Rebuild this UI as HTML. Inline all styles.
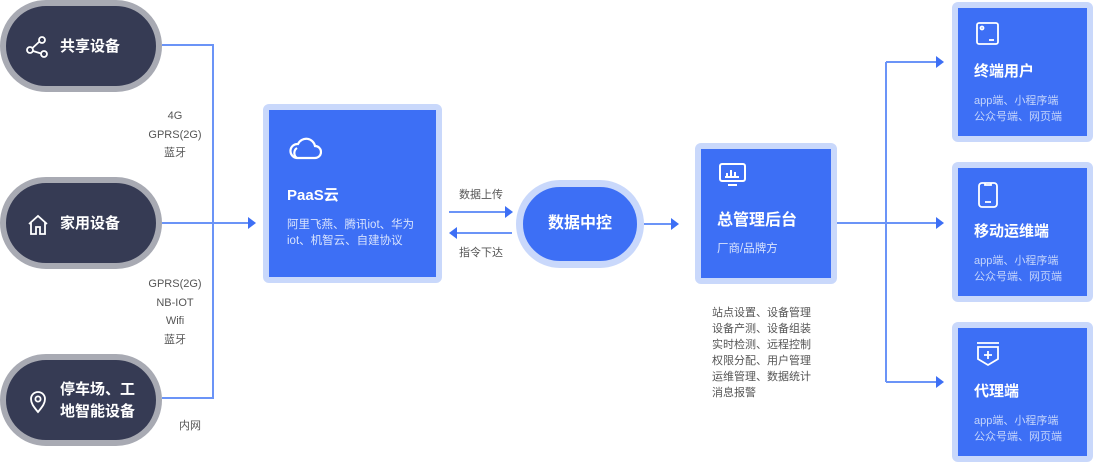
<!DOCTYPE html>
<html><head><meta charset="utf-8"><style>
*{margin:0;padding:0;box-sizing:border-box}
body{width:1094px;height:463px;background:#fff;position:relative;overflow:hidden;font-family:"Liberation Sans","Noto Sans CJK SC",sans-serif}
.a{position:absolute}
.pill{position:absolute;left:0;width:162px;height:92px;border-radius:46px;background:#363b54;border:6px solid #a8aab3;color:#fff;font-size:15px;font-weight:bold}
.pill svg{position:absolute;left:20px;top:30px}
.pill .t{position:absolute;left:54px;line-height:22px}
.lbl{position:absolute;font-size:11px;color:#555;text-align:center;line-height:18.5px}
.box{position:absolute;background:#3d6ff5;border:6px solid #c9d8fb;border-radius:6px;color:#fff}
.rb{left:952px;width:141px;height:140px}
.rb svg{position:absolute;left:18px;top:14px}
.rb .t{position:absolute;left:16px;top:52px;font-size:15px;font-weight:bold}
.rb .d{position:absolute;left:16px;top:86px;font-size:11px;color:#c5d5fb;line-height:15.5px}
</style></head><body>
<div class="pill" style="top:0"><svg width="24" height="24" viewBox="0 0 24 24" fill="none" stroke="#fff" stroke-width="1.8"><circle cx="16" cy="4" r="3"/><circle cx="4" cy="14" r="3"/><circle cx="18" cy="18" r="3"/><path d="M13.5 5.5L6.5 12M7 15l8 2.5"/></svg><div class="t" style="top:30px">共享设备</div></div>
<div class="pill" style="top:177px"><svg width="24" height="24" viewBox="0 0 24 24" fill="none" stroke="#fff" stroke-width="1.8"><path d="M3 11L12 3l9 8M5 9v12h5v-7h4v7h5V9"/></svg><div class="t" style="top:30px">家用设备</div></div>
<div class="pill" style="top:354px"><svg width="24" height="24" viewBox="0 0 24 24" fill="none" stroke="#fff" stroke-width="1.8"><path d="M12 22C7 16 5 13 5 9a7 7 0 0 1 14 0c0 4-2 7-7 13z"/><circle cx="12" cy="9" r="2.6"/></svg><div class="t" style="top:19px">停车场、工<br>地智能设备</div></div>

<svg class="a" style="left:0;top:0" width="1094" height="463">
<g stroke="#6b94f7" stroke-width="2" fill="none">
<path d="M162 45H213V398H162"/><path d="M162 223H248"/>
<path d="M449 212H506"/><path d="M456 233H512"/>
<path d="M644 224H672"/>
<path d="M837 223H886M886 62V382M886 62H937M886 223H937M886 382H937"/>
</g>
<g fill="#3d6ff5">
<path d="M248 217L256 223L248 229z"/>
<path d="M505 206L513 212L505 218z"/>
<path d="M457 227L449 233L457 239z"/>
<path d="M671 218L679 224L671 230z"/>
<path d="M936 56L944 62L936 68z"/><path d="M936 217L944 223L936 229z"/><path d="M936 376L944 382L936 388z"/>
</g>
</svg>

<div class="lbl" style="left:145px;top:107px;width:60px">4G<br>GPRS(2G)<br>蓝牙</div>
<div class="lbl" style="left:145px;top:275px;width:60px">GPRS(2G)<br>NB-IOT<br>Wifi<br>蓝牙</div>
<div class="lbl" style="left:175px;top:417px;width:30px">内网</div>

<div class="box" style="left:263px;top:104px;width:179px;height:179px">
<svg class="a" style="left:19px;top:23px" width="34" height="28" viewBox="0 0 34 28" fill="none" stroke="#fff" stroke-width="2.2"><path d="M9 25H27a6 6 0 0 0 0-12 9 9 0 0 0-17-2 7 7 0 0 0-1 14z"/><path d="M9 25a6 6 0 0 1 0-10"/></svg>
<div class="a" style="left:18px;top:74px;font-size:15px;font-weight:bold">PaaS云</div>
<div class="a" style="left:18px;top:107px;font-size:11.5px;color:#d8e3fd;line-height:16px;width:150px">阿里飞燕、腾讯iot、华为<br>iot、机智云、自建协议</div>
</div>

<div class="lbl" style="left:450px;top:186px;width:62px">数据上传</div>
<div class="lbl" style="left:450px;top:244px;width:62px">指令下达</div>

<div class="a" style="left:516px;top:180px;width:128px;height:88px;border-radius:44px;background:#3d6ff5;border:7px solid #c9d8fb;color:#fff;font-size:16px;font-weight:bold;text-align:center;line-height:74px">数据中控</div>

<div class="box" style="left:695px;top:143px;width:142px;height:141px">
<svg class="a" style="left:18px;top:14px" width="27" height="24" viewBox="0 0 27 24" fill="none" stroke="#fff" stroke-width="2"><rect x="1" y="1" width="25" height="17" rx="2"/><path d="M9 22h9M8 14V10M12 14V7M16 14V9M20 14h-14"/></svg>
<div class="a" style="left:16px;top:57px;font-size:16px;font-weight:bold">总管理后台</div>
<div class="a" style="left:16px;top:91px;font-size:11.5px;color:#d8e3fd">厂商/品牌方</div>
</div>

<div class="a" style="left:712px;top:305px;font-size:11px;color:#555;line-height:16px">站点设置、设备管理<br>设备产测、设备组装<br>实时检测、远程控制<br>权限分配、用户管理<br>运维管理、数据统计<br>消息报警</div>

<div class="box rb" style="top:2px"><svg width="23" height="23" viewBox="0 0 23 23" fill="none" stroke="#fff" stroke-width="1.8"><rect x="1" y="1" width="21" height="21" rx="2"/><circle cx="6" cy="6" r="1.5"/><path d="M13 18h5"/></svg><div class="t">终端用户</div><div class="d">app端、小程序端<br>公众号端、网页端</div></div>
<div class="box rb" style="top:162px"><svg width="23" height="26" viewBox="0 0 23 26" fill="none" stroke="#fff" stroke-width="1.8"><rect x="3" y="1" width="18" height="24" rx="3"/><path d="M9 1v2h6V1M9 20h6"/></svg><div class="t">移动运维端</div><div class="d">app端、小程序端<br>公众号端、网页端</div></div>
<div class="box rb" style="top:322px"><svg width="24" height="26" viewBox="0 0 24 26" fill="none" stroke="#fff" stroke-width="1.8"><path d="M1 1h22M2 5h20v12l-10 6-10-6z"/><path d="M12 9v8M8 13h8"/></svg><div class="t">代理端</div><div class="d">app端、小程序端<br>公众号端、网页端</div></div>
</body></html>
